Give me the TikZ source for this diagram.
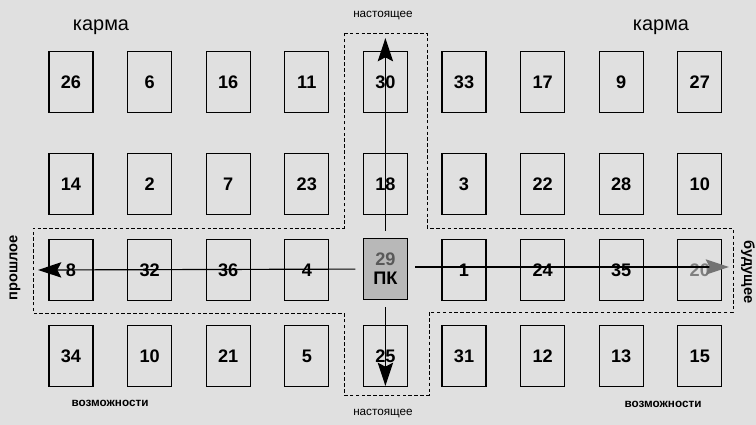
\documentclass[tikz,border=0pt]{standalone}
\usepackage{fontspec}
\setmainfont{Liberation Sans}
\usetikzlibrary{arrows.meta}
\definecolor{paper}{gray}{0.88}
\definecolor{pkgray}{gray}{0.72}

\begin{document}
\begin{tikzpicture}[x=0.03cm, y=-0.03cm,
  card/.style={draw, line width=1pt, minimum width=1.32cm, minimum height=1.83cm,
    inner sep=0pt, font=\fontsize{15.5}{16}\selectfont\bfseries},
  axis/.style={line width=1pt, shorten <=0.22cm,
    -{Stealth[length=0.7cm, width=0.46cm, inset=0.12cm]}},
  tag/.style={font=\fontsize{10}{12}\selectfont}]
  \fill[paper] (0,0) rectangle (756,425);
  \useasboundingbox (0,0) rectangle (756,425);

  % cross of the present / past / future
  \draw[line width=0.7pt, dash pattern=on 3pt off 2pt]
    (344,33) -- (427,33) -- (427,228) -- (733,228) -- (733,312) -- (429,312)
    -- (429,395) -- (344,395) -- (344,313) -- (33,313) -- (33,228) -- (344,228) -- cycle;

  % spread
  \foreach \n [count=\c] in {26,6,16,11,30,33,17,9,27}
    \node[card] (a\c) at ({71+78.6*(\c-1)},82) {\n};
  \foreach \n [count=\c] in {14,2,7,23,18,3,22,28,10}
    \node[card] (b\c) at ({71+78.6*(\c-1)},184) {\n};
  \foreach \n/\c in {8/1,32/2,36/3,4/4,1/6,24/7,35/8}
    \node[card] (m\c) at ({71+78.6*(\c-1)},270) {\n};
  \node[card, text=black!50] (m9) at (699.8,270) {20};
  \foreach \n [count=\c] in {34,10,21,5,25,31,12,13,15}
    \node[card] (d\c) at ({71+78.6*(\c-1)},356) {\n};
  \node[card, fill=pkgray, align=center] (pk) at (385.4,269)
    {\textcolor{black!65}{29}\\ПК};

  % time axes
  \coordinate (up) at (pk |- 0,38);
  \coordinate (down) at (pk |- 0,386);
  \coordinate (past) at (38,270);
  \coordinate (future) at (729,267);
  \draw[axis] (pk) -- (up);
  \draw[axis] (pk) -- (down);
  \draw[axis] (pk) -- (past);
  \draw[line width=1pt, shorten <=0.22cm,
    -{Stealth[length=0.7cm, width=0.46cm, inset=0.12cm, color=black!55]}] (pk.east |- future) -- (future);

  % labels
  \node[font=\fontsize{17}{20}\selectfont] (karma1) at (101,27) {карма};
  \node[font=\fontsize{17}{20}\selectfont] (karma2) at (661,27) {карма};
  \node[tag] (now1) at (383,16) {настоящее};
  \node[tag] (now2) at (383,414) {настоящее};
  \node[tag, font=\fontsize{10}{12}\selectfont\bfseries] (opp1) at (110,403) {возможности};
  \node[tag, font=\fontsize{10}{12}\selectfont\bfseries] (opp2) at (663,404) {возможности};
  \node[tag, font=\fontsize{12.5}{14}\selectfont\bfseries, rotate=90] (past1) at (15,268) {прошлое};
  \node[tag, font=\fontsize{12.5}{14}\selectfont\bfseries, rotate=-90] (fut1) at (748,272) {будущее};
\end{tikzpicture}
\end{document}
